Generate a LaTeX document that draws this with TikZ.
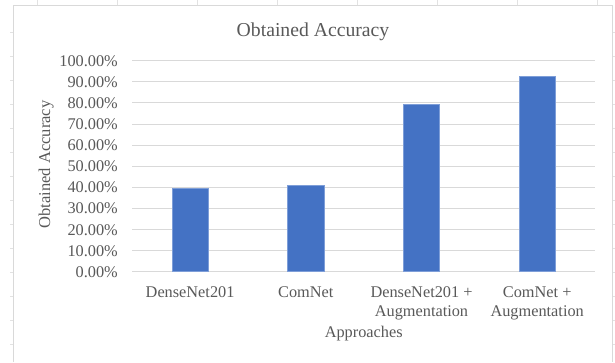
\documentclass[tikz,border=0pt]{standalone}
\usepackage{fontspec}
\setmainfont{Liberation Serif}
\definecolor{txtgray}{HTML}{595959}
\definecolor{gridgray}{HTML}{D9D9D9}
\definecolor{stubgray}{HTML}{E2E2E2}
\definecolor{barblue}{HTML}{4472C4}
\definecolor{baredge}{HTML}{7E9ED8}
\begin{document}
\begin{tikzpicture}[x=1pt,y=-1pt,
  gridline/.style={draw=gridgray, line width=0.9pt},
  frameline/.style={draw=gridgray, line width=0.9pt},
  stubline/.style={draw=stubgray, line width=0.8pt},
  ticklabel/.style={font=\fontsize{16.3}{19}\selectfont, text=txtgray, inner sep=0pt},
  catlabel/.style={font=\fontsize{16.3}{19}\selectfont, text=txtgray, inner sep=0pt, align=center, anchor=north},
  titlelabel/.style={font=\fontsize{19.7}{23}\selectfont, text=txtgray, inner sep=0pt, anchor=base},
  axislabel/.style={font=\fontsize{16.5}{19}\selectfont, text=txtgray, inner sep=0pt, anchor=base},
  barbox/.style={fill=barblue, draw=baredge, line width=0.5pt}]
\useasboundingbox (0,0) rectangle (615,362);
\fill[white] (0,0) rectangle (615,362);
% spreadsheet cell stubs outside the chart
\foreach \k in {0,...,7} \draw[stubline] ({37+80*\k},0) -- ({37+80*\k},5);
\foreach \k in {0,...,13} {
  \draw[stubline] (10,{32+24*\k}) -- (13.7,{32+24*\k});
  \draw[stubline] (612.3,{32+24*\k}) -- (615,{32+24*\k});
}
% chart frame
\draw[frameline] (13.7,362) -- (13.7,5) -- (612.3,5) -- (612.3,362);
% gridlines and tick labels
\foreach \v [count=\i from 0] in {0,10,...,100} {
  \draw[gridline] (132.3,{271.7-21.1*\i}) -- (595,{271.7-21.1*\i});
  \node[ticklabel, anchor=base east] (tick\i) at (118,{271.7-21.1*\i+5.5}) {\v.00\%};
}
% bars
\foreach \c/\val [count=\j] in {190.1/0.397, 305.8/0.409, 421.5/0.795, 537.2/0.924} {
  \filldraw[barbox] ({\c-18.2},271.2) rectangle ({\c+18.2},{271.7-211*\val});
}
% category labels
\node[catlabel] (cat1) at (190.1,286.2) {DenseNet201};
\node[catlabel] (cat2) at (305.8,286.2) {ComNet};
\node[catlabel] (cat3) at (421.5,286.2) {DenseNet201 +\\Augmentation};
\node[catlabel] (cat4) at (537.2,286.2) {ComNet +\\Augmentation};
% titles
\node[titlelabel] (title) at (313,36.7) {Obtained Accuracy};
\node[titlelabel, font=\fontsize{16.3}{19}\selectfont] (xlab) at (363.7,337.3) {Approaches};
\node[axislabel, rotate=90] (ylab) at (50,164.5) {Obtained Accuracy};
\end{tikzpicture}
\end{document}
